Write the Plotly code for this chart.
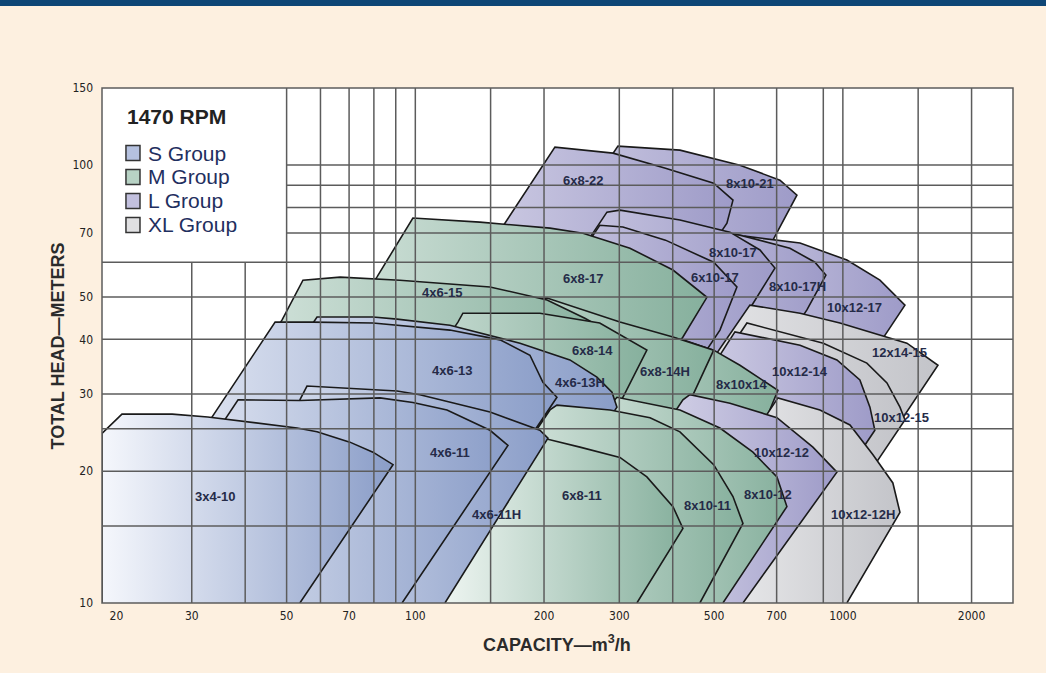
import math
import plotly.graph_objects as go

# ---------------- axes ----------------
Q_MIN, Q_MAX = 18.5, 2500      # capacity, m3/h (log)
H_MIN, H_MAX = 10, 150         # head, m (log)
X_TICKS = [20, 30, 50, 70, 100, 200, 300, 500, 700, 1000, 2000]
Y_TICKS = [10, 20, 30, 40, 50, 70, 100, 150]
GRID_Q = [30, 40, 50, 60, 70, 80, 90, 100, 150, 200, 300, 400, 500, 700, 900, 1000, 1500, 2000]
GRID_H = [15, 20, 25, 30, 40, 50, 60, 70, 80, 90, 100]
LEGEND_BOX_Q = 50   # legend box occupies Q < 50, H > 60
LEGEND_BOX_H = 60

# ---------------- pump coverage outlines (capacity m3/h, head m) ----------------
Q_8x10_21 = [57.0, 297.8, 415.9, 574.4, 712.6, 780.8, 686.2, 185.4]
H_8x10_21 = [10, 110.5, 108.2, 99.9, 92.4, 85.4, 67.4, 10]
Q_6x8_22 = [42.2, 212.1, 290, 384.7, 498.7, 553.3, 535.6, 135.7]
H_6x8_22 = [10, 109.9, 106.5, 98.4, 90.9, 83.2, 73.7, 10]
Q_10x12_17 = [175.7, 590.1, 794, 1022, 1221, 1397, 1288, 478.4]
H_10x12_17 = [10, 68.8, 66.4, 60.7, 54.6, 47.9, 42.5, 10]
Q_8x10_17H = [120.5, 438.8, 574.4, 751.9, 860.2, 912.7, 823.9, 286.8]
H_8x10_17H = [10, 71.8, 69.2, 64.6, 60.0, 56.1, 46.7, 10]
Q_8x10_17 = [68.5, 280.7, 301, 415.9, 544.3, 639.8, 693.6, 596.5, 209.8]
H_8x10_17 = [10, 78.1, 78.9, 74.9, 70.3, 64.0, 58.2, 45.9, 10]
Q_6x10_17 = [69.2, 270, 305.9, 384.7, 498.7, 553.3, 565.2, 515.8, 192.5]
H_6x10_17 = [10, 72.9, 72.2, 67.4, 60, 53.8, 52.7, 42.0, 10]
Q_12x14_15 = [201.1, 606.1, 794, 984.2, 1412, 1669, 708.7]
H_12x14_15 = [10, 47.9, 45.9, 43.6, 39.2, 34.9, 10]
Q_10x12_15 = [216.7, 596.5, 900, 1138, 1268, 1360, 1397, 720]
H_10x12_15 = [10, 43.6, 39.2, 35.3, 31.8, 28.0, 26.2, 10]
Q_10x12_14 = [217.9, 559.2, 794, 968.5, 1096, 1157, 1188, 636.4]
H_10x12_14 = [10, 41.6, 38.8, 35.9, 32.3, 28.0, 24.8, 10]
Q_6x8_17 = [25.1, 81.3, 98.7, 141.6, 206.5, 246.7, 317.7, 400.5, 480.9, 422.6, 162.1]
H_6x8_17 = [10, 55.5, 75.7, 74.1, 71.8, 69.9, 64.6, 57.6, 49.9, 40.5, 10]
Q_8x10x14 = [99.3, 270, 422.6, 498.7, 574.4, 686.2, 704.9, 664.3, 338.8]
H_8x10x14 = [10, 43.1, 39.9, 37.8, 34.9, 31.1, 30.6, 26.6, 10]
Q_6x8_14H = [60.5, 180.5, 203.3, 301, 400.5, 498.7, 431.9, 213.3]
H_6x8_14H = [10, 49.2, 49.7, 43.8, 40.5, 37.8, 27.9, 10]
Q_10x12_12H = [338.8, 704.9, 883.7, 1039, 1176, 1309, 1360, 1022]
H_10x12_12H = [10, 29.4, 27.6, 25.5, 21.8, 18.8, 16.1, 10]
Q_10x12_12 = [203.3, 422.6, 438.8, 544.3, 701.2, 851, 968.5, 583.9]
H_10x12_12 = [10, 29.1, 29.9, 28.6, 26.5, 22.7, 19.9, 10]
Q_4x6_15 = [17.5, 48.8, 54.6, 66.7, 92, 149.5, 203.3, 249.2, 293, 111.2]
H_4x6_15 = [10, 44.3, 54.6, 55.5, 54.6, 52.7, 49.2, 44.7, 40.9, 10]
Q_6x8_14 = [45.5, 125.8, 129.2, 195.6, 270, 348, 305.9, 145.5]
H_6x8_14 = [10, 43.8, 45.9, 45.9, 43.6, 37.8, 29.5, 10]
Q_8x10_12 = [140.1, 288.4, 296.2, 354, 415.9, 515.8, 616.1, 701.2, 739.8, 524.2]
H_8x10_12 = [10, 28.6, 29.5, 28.5, 27.6, 25.1, 22.1, 19.4, 16.6, 10]
Q_4x6_13H = [20.9, 58.9, 79.6, 90.6, 120.5, 175.7, 229.9, 265.9, 288.4, 296.2, 146.3]
H_4x6_13H = [10, 45.0, 45.0, 44.5, 43.1, 39.2, 35.9, 32.8, 30.3, 28.0, 10]
Q_8x10_11 = [102.5, 206.5, 214.4, 285.3, 354, 415.9, 498.7, 553.3, 583.9, 463]
H_8x10_11 = [10, 27.6, 28.3, 27.6, 26.5, 24.6, 20.7, 17.5, 15.2, 10]
Q_6x8_11 = [108.2, 195.6, 242.7, 301, 348, 400.5, 422.6, 329.8]
H_6x8_11 = [10, 23.9, 22.7, 21.5, 19.4, 16.6, 14.8, 10]
Q_4x6_13 = [17.2, 47.0, 57.6, 79.6, 120.5, 157.8, 185.4, 198.8, 214.4, 102]
H_4x6_13 = [10, 43.8, 43.8, 43.6, 42.0, 39.9, 36.8, 31.9, 29.5, 10]
Q_4x6_11H = [25.6, 53.7, 55.8, 90.6, 102.5, 149.5, 195.6, 204.3, 117.3]
H_4x6_11H = [10, 29.1, 31.3, 30.5, 29.9, 27.3, 24.8, 23.8, 10]
Q_4x6_11 = [18.6, 38.5, 53.7, 82.7, 98.7, 118.6, 149.5, 164.7, 93.1]
H_4x6_11 = [10, 29.1, 29.0, 29.4, 28.7, 27.6, 24.8, 22.9, 10]
Q_3x4_10 = [18.5, 18.5, 20.6, 27, 32.7, 52.9, 58.9, 70.3, 79.6, 88.7, 53.7]
H_3x4_10 = [10, 24.4, 27, 27, 26.6, 25.1, 24.6, 23.3, 22.1, 20.7, 10]

# drawing order: back -> front
PUMPS = [
    ("8x10-21", Q_8x10_21, H_8x10_21, "L"),
    ("6x8-22", Q_6x8_22, H_6x8_22, "L"),
    ("10x12-17", Q_10x12_17, H_10x12_17, "L"),
    ("8x10-17H", Q_8x10_17H, H_8x10_17H, "L"),
    ("8x10-17", Q_8x10_17, H_8x10_17, "L"),
    ("6x10-17", Q_6x10_17, H_6x10_17, "L"),
    ("12x14-15", Q_12x14_15, H_12x14_15, "XL"),
    ("10x12-15", Q_10x12_15, H_10x12_15, "XL"),
    ("10x12-14", Q_10x12_14, H_10x12_14, "L"),
    ("6x8-17", Q_6x8_17, H_6x8_17, "M"),
    ("8x10x14", Q_8x10x14, H_8x10x14, "M"),
    ("6x8-14H", Q_6x8_14H, H_6x8_14H, "M"),
    ("10x12-12H", Q_10x12_12H, H_10x12_12H, "XL"),
    ("10x12-12", Q_10x12_12, H_10x12_12, "L"),
    ("4x6-15", Q_4x6_15, H_4x6_15, "M"),
    ("6x8-14", Q_6x8_14, H_6x8_14, "M"),
    ("8x10-12", Q_8x10_12, H_8x10_12, "M"),
    ("4x6-13H", Q_4x6_13H, H_4x6_13H, "S"),
    ("8x10-11", Q_8x10_11, H_8x10_11, "M"),
    ("6x8-11", Q_6x8_11, H_6x8_11, "M"),
    ("4x6-13", Q_4x6_13, H_4x6_13, "S"),
    ("4x6-11H", Q_4x6_11H, H_4x6_11H, "S"),
    ("4x6-11", Q_4x6_11, H_4x6_11, "S"),
    ("3x4-10", Q_3x4_10, H_3x4_10, "S"),
]

# size labels
LABEL_NAMES = ["3x4-10", "4x6-11", "4x6-11H", "4x6-13", "4x6-13H", "4x6-15", "6x8-17", "6x8-22",
               "8x10-21", "8x10-17", "6x10-17", "8x10-17H", "10x12-17", "12x14-15", "6x8-14",
               "6x8-14H", "8x10x14", "10x12-14", "10x12-15", "6x8-11", "8x10-11", "8x10-12",
               "10x12-12", "10x12-12H"]
LABEL_Q = [34.0, 120.5, 155.2, 121.8, 242.7, 115.4, 246.7, 246.7, 606.1, 553.3, 502.3, 785,
           1067, 1360, 260.3, 383.6, 580.6, 794, 1374, 245.3, 483.5, 667.8, 720.2, 1114]
LABEL_H = [17.5, 22.1, 15.9, 34.0, 31.9, 51.3, 55.2, 92.4, 90.9, 63.0, 55.5, 52.7, 47.4, 37.4,
           37.8, 33.7, 31.6, 33.7, 26.5, 17.6, 16.7, 17.7, 22.1, 15.9]

GROUP_NAMES = ["S Group", "M Group", "L Group", "XL Group"]
GROUP_KEYS = ["S", "M", "L", "XL"]
GROUP_LIGHT = {"S": "#F5F7FC", "M": "#F4F9F6", "L": "#F6F5FB", "XL": "#FBFBFB"}
GROUP_DARK = {"S": "#8A9DC8", "M": "#86B09D", "L": "#9E9BC8", "XL": "#C3C4C9"}
GROUP_SWATCH = {"S": "#B5C1DF", "M": "#B7D2C4", "L": "#C2C0DE", "XL": "#E0E0E2"}

LBL_FONT = "Liberation Sans, Arial, sans-serif"
NARROW_FONT = "Liberation Sans Narrow, Arial Narrow, DejaVu Sans Condensed, Liberation Sans, sans-serif"

L10 = math.log10

fig = go.Figure()
for name, q, h, g in PUMPS:
    fig.add_trace(go.Scatter(
        x=q, y=h, mode="lines", fill="toself", name=name,
        fillgradient=dict(type="horizontal",
                          colorscale=[[0, GROUP_LIGHT[g]], [1, GROUP_DARK[g]]]),
        line=dict(color="#1a1a1a", width=1.6),
        hoverinfo="skip", showlegend=False))

# grid drawn on top of the coverage areas (as in the original chart)
gx, gy = [], []
for q in GRID_Q:
    ytop = LEGEND_BOX_H if q < LEGEND_BOX_Q else H_MAX
    gx += [q, q, None]
    gy += [H_MIN, ytop, None]
for hv in GRID_H:
    xl = LEGEND_BOX_Q if hv > LEGEND_BOX_H else Q_MIN
    gx += [xl, Q_MAX, None]
    gy += [hv, hv, None]
fig.add_trace(go.Scatter(x=gx, y=gy, mode="lines", line=dict(color="#5c5c5c", width=1.5),
                         hoverinfo="skip", showlegend=False, connectgaps=False))

shapes = []
# plot frame
shapes.append(dict(type="rect", xref="paper", yref="paper", x0=0, x1=1, y0=0, y1=1,
                   line=dict(color="#5c5c5c", width=1.5), layer="above"))
# top banner bar
shapes.append(dict(type="rect", xref="paper", yref="paper", x0=-0.2, x1=1.2,
                   y0=1.1590, y1=1.20, line=dict(width=0), fillcolor="#0E4676", layer="above"))

annotations = []
for n, q, h in zip(LABEL_NAMES, LABEL_Q, LABEL_H):
    annotations.append(dict(x=L10(q), y=L10(h), xref="x", yref="y", text="<b>" + n + "</b>",
                            showarrow=False,
                            font=dict(family=LBL_FONT, size=13, color="#252b48"),
                            xanchor="center", yanchor="middle"))

# legend block (inside plot, top-left white box)
annotations.append(dict(x=0.0255, y=0.9437, xref="paper", yref="paper", text="<b>1470 RPM</b>",
                        showarrow=False, xanchor="left", yanchor="middle",
                        font=dict(family=LBL_FONT, size=21, color="#222222")))
for i, (gname, gk) in enumerate(zip(GROUP_NAMES, GROUP_KEYS)):
    yc = (603 - (153 + 24 * i)) / 515.0
    hh = 7.5 / 515.0
    shapes.append(dict(type="rect", xref="paper", yref="paper", x0=0.0263, x1=0.0417,
                       y0=yc - hh, y1=yc + hh, fillcolor=GROUP_SWATCH[gk],
                       line=dict(color="#333333", width=1.5), layer="above"))
    annotations.append(dict(x=0.0483, y=yc, xref="paper", yref="paper", text=gname,
                            showarrow=False, xanchor="left", yanchor="middle",
                            font=dict(family=LBL_FONT, size=21, color="#1f2f60")))

# axis titles
annotations.append(dict(x=-0.0483, y=0.50, xref="paper", yref="paper",
                        text="<b>TOTAL HEAD—METERS</b>", textangle=-90, showarrow=False,
                        xanchor="center", yanchor="middle",
                        font=dict(family=LBL_FONT, size=18, color="#2b2b2b")))
annotations.append(dict(x=0.499, y=-0.0790, xref="paper", yref="paper",
                        text="<b>CAPACITY—m<sup>3</sup>/h</b>", showarrow=False,
                        xanchor="center", yanchor="middle",
                        font=dict(family=LBL_FONT, size=18, color="#2b2b2b")))

fig.update_layout(
    width=1046, height=673,
    margin=dict(l=102, r=33, t=88, b=70),
    paper_bgcolor="#FDF0E0", plot_bgcolor="#FFFFFF",
    shapes=shapes, annotations=annotations, showlegend=False,
    xaxis=dict(type="log", range=[L10(Q_MIN), L10(Q_MAX)], showgrid=False, zeroline=False,
               showline=False, ticks="", tickvals=X_TICKS, ticktext=[str(v) for v in X_TICKS],
               tickfont=dict(family=NARROW_FONT, size=12, color="#222222"), ticklabelstandoff=4),
    yaxis=dict(type="log", range=[L10(H_MIN), L10(H_MAX)], showgrid=False, zeroline=False,
               showline=False, ticks="", tickvals=Y_TICKS, ticktext=[str(v) for v in Y_TICKS],
               tickfont=dict(family=NARROW_FONT, size=12, color="#222222"), ticklabelstandoff=8),
)

fig.write_html("out.html", config={"displayModeBar": False},
               post_script="document.body.style.margin='0';document.body.style.overflow='hidden';")
